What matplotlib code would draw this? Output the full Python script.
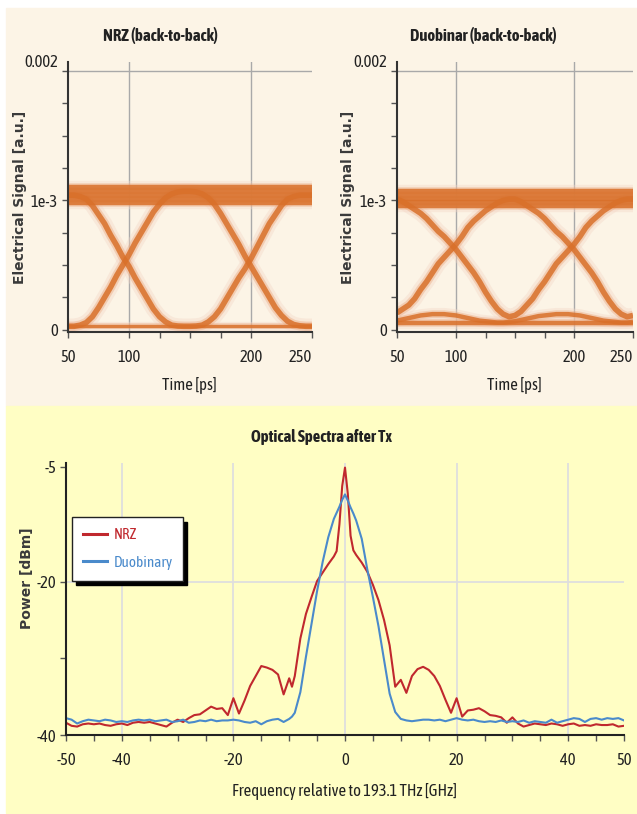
import matplotlib
matplotlib.use("Agg")
import matplotlib.pyplot as plt
import numpy as np
from matplotlib.patches import Rectangle

NARROW = ["Asap Condensed", "PT Sans Narrow", "DejaVu Sans"]
plt.rcParams["font.family"] = NARROW

# --- eye diagrams (signal in units of 1e-3 a.u.), sampled every 5 ps ---
T_EYE = np.arange(50, 251, 5)

NRZ_FALL_RISE = [1.04, 1.04, 1.03, 1.01, 0.96, 0.89, 0.82, 0.73, 0.65, 0.56,
                 0.49, 0.40, 0.32, 0.24, 0.16, 0.10, 0.06, 0.035, 0.028, 0.026,
                 0.026, 0.028, 0.035, 0.06, 0.10, 0.16, 0.24, 0.32, 0.40, 0.47,
                 0.55, 0.64, 0.73, 0.82, 0.89, 0.96, 1.01, 1.03, 1.04, 1.04,
                 1.04]
NRZ_RISE_FALL = [0.026, 0.026, 0.035, 0.055, 0.10, 0.17, 0.25, 0.33, 0.42, 0.50,
                 0.58, 0.67, 0.75, 0.83, 0.91, 0.97, 1.02, 1.05, 1.065, 1.07,
                 1.07, 1.065, 1.05, 1.02, 0.97, 0.90, 0.82, 0.74, 0.66, 0.57,
                 0.49, 0.41, 0.33, 0.25, 0.17, 0.11, 0.065, 0.04, 0.03, 0.026,
                 0.026]
NRZ_HIGH = [0.98, 1.01, 1.04, 1.07, 1.10]   # spread of the "1" rail
NRZ_LOW = 0.026

DB_FALL_RISE = [1.01, 0.99, 0.96, 0.93, 0.90, 0.86, 0.81, 0.76, 0.72, 0.67,
                0.62, 0.56, 0.50, 0.44, 0.37, 0.29, 0.22, 0.16, 0.12, 0.10,
                0.11, 0.14, 0.19, 0.24, 0.31, 0.37, 0.44, 0.51, 0.56, 0.61,
                0.66, 0.72, 0.79, 0.84, 0.88, 0.92, 0.95, 0.98, 1.00, 1.01,
                1.01]
DB_RISE_FALL = [0.13, 0.16, 0.19, 0.24, 0.31, 0.37, 0.44, 0.51, 0.56, 0.61,
                0.66, 0.72, 0.79, 0.84, 0.88, 0.92, 0.95, 0.98, 1.00, 1.01,
                1.01, 0.99, 0.96, 0.93, 0.90, 0.86, 0.81, 0.76, 0.72, 0.67,
                0.62, 0.56, 0.50, 0.44, 0.37, 0.29, 0.22, 0.16, 0.12, 0.10,
                0.11]
DB_LOW_WAVE = [0.07, 0.08, 0.09, 0.10, 0.11, 0.115, 0.12, 0.12, 0.12, 0.115,
               0.11, 0.10, 0.09, 0.08, 0.07, 0.065, 0.06, 0.055, 0.055, 0.06,
               0.065, 0.075, 0.085, 0.095, 0.105, 0.11, 0.115, 0.12, 0.12, 0.12,
               0.115, 0.11, 0.10, 0.09, 0.08, 0.07, 0.065, 0.06, 0.055, 0.055,
               0.06]
DB_HIGH = [0.96, 0.99, 1.01, 1.04, 1.07]
DB_LOW = 0.05

# --- optical spectra ---
FREQ = [-50, -49, -48, -47, -46, -45, -44, -43, -42, -41,
        -40, -39, -38, -37, -36, -35, -34, -33, -32, -31,
        -30, -29, -28, -27, -26, -25, -24, -23, -22, -21,
        -20, -19, -18, -17, -16, -15, -14, -13, -12, -11,
        -10, -9.5, -9, -8, -7, -6, -5, -4, -3, -2,
        -1.5, -1, -0.5, 0, 0.5, 1, 1.5, 2, 3, 4,
        5, 6, 7, 8, 9, 10, 11, 12, 13, 14,
        15, 16, 17, 18, 19, 20, 21, 22, 23, 24,
        25, 26, 27, 28, 29, 30, 31, 32, 33, 34,
        35, 36, 37, 38, 39, 40, 41, 42, 43, 44,
        45, 46, 47, 48, 49, 50]
P_NRZ = [-38.4, -38.8, -38.9, -38.6, -38.5, -38.6, -38.5, -38.7, -38.8, -38.6,
         -38.5, -38.7, -38.4, -38.3, -38.4, -38.3, -38.5, -38.7, -38.9, -38.4,
         -38.0, -38.3, -37.8, -37.4, -37.3, -36.8, -36.3, -36.6, -36.5, -37.4,
         -35.2, -37.2, -35.5, -33.6, -32.3, -31.0, -31.2, -31.5, -32.1, -34.7,
         -32.6, -33.7, -32.3, -27.4, -24.2, -22.0, -19.9, -18.8, -17.7, -16.7,
         -16.0, -12.5, -7.5, -5.1, -8.5, -14.0, -15.9, -16.5, -17.5, -18.7,
         -20.4, -22.4, -25.0, -28.3, -33.7, -32.8, -34.5, -32.3, -31.4, -31.1,
         -31.5, -32.3, -33.6, -35.4, -37.1, -35.2, -37.6, -36.8, -36.7, -36.5,
         -36.9, -37.4, -37.5, -37.7, -38.4, -37.7, -38.5, -38.9, -38.7, -38.5,
         -38.6, -38.7, -38.5, -38.6, -38.8, -38.6, -38.5, -38.8, -38.7, -38.8,
         -38.6, -38.7, -38.7, -38.6, -38.9, -38.8]
P_DUO = [-37.8, -38.0, -38.5, -38.2, -38.0, -38.1, -38.2, -38.0, -38.1, -38.3,
         -38.2, -38.3, -38.1, -38.0, -38.1, -38.0, -38.2, -38.1, -38.0, -38.3,
         -38.2, -38.0, -38.4, -38.3, -38.1, -38.2, -38.0, -38.2, -38.1, -38.1,
         -38.0, -38.1, -38.3, -38.4, -38.2, -38.6, -38.2, -38.0, -37.9, -38.3,
         -37.9, -37.6, -37.1, -34.4, -29.8, -25.5, -21.2, -17.4, -14.2, -11.8,
         -11.0, -10.2, -9.3, -8.6, -9.4, -10.3, -11.1, -12.0, -14.4, -18.4,
         -22.0, -25.8, -30.2, -34.6, -37.0, -37.9, -38.1, -38.2, -38.1, -38.0,
         -38.0, -38.1, -38.0, -38.2, -38.0, -37.8, -38.0, -38.1, -38.0, -38.2,
         -38.3, -38.2, -38.3, -38.1, -38.3, -38.2, -38.3, -38.1, -38.4, -38.2,
         -38.3, -38.4, -38.0, -38.4, -38.2, -38.0, -37.8, -37.9, -38.3, -37.9,
         -37.8, -38.0, -37.8, -37.9, -37.8, -38.1]

CREAM = "#FCF4E6"
YELLOW = "#FFFEC4"
ORANGE = "#D9702A"
ORANGE_MID = "#EBA57A"
ORANGE_HALO = "#F3D6C6"
RED = "#C0282E"
BLUE = "#4A8ACB"
GRID_TOP = "#A9A9A9"
GRID_BOT = "#DEDEDE"
AXIS = "#333333"


def eye_layer(ax, traces, widths, color, alpha):
    for (t, v), w in zip(traces, widths):
        ax.plot(t, np.asarray(v) * 1e-3, color=color, lw=w, alpha=alpha,
                solid_capstyle="butt", solid_joinstyle="round")


def draw_eye(ax, traces, core_w):
    # halo, mid and core passes give the blurred persistence look
    eye_layer(ax, traces, [w * 2.8 for w in core_w], ORANGE_HALO, 0.40)
    eye_layer(ax, traces, [w * 1.7 for w in core_w], ORANGE_MID, 0.40)
    eye_layer(ax, traces, core_w, ORANGE, 0.85)


def style_eye_axes(ax):
    ax.set_facecolor("none")
    ax.set_xlim(50, 250)
    ax.set_ylim(-0.000018, 0.00207)
    for s in ("top", "right"):
        ax.spines[s].set_visible(False)
    for s in ("left", "bottom"):
        ax.spines[s].set_color(AXIS)
        ax.spines[s].set_linewidth(1.5)
    for x in (100, 200):
        ax.axvline(x, color=GRID_TOP, lw=1.0, zorder=0)
    ax.axhline(0.002, color=GRID_TOP, lw=1.0, zorder=0)
    ax.set_xticks([50, 100, 200, 250])
    ax.set_xticks([125, 150, 175], minor=True)
    ax.set_yticks([0, 0.001, 0.002])
    ax.set_yticklabels(["0", "1e-3", "0.002"])
    ax.set_yticks([0.00025, 0.0005, 0.00075, 0.00125, 0.0015, 0.00175], minor=True)
    ax.tick_params(axis="both", which="both", direction="out", length=4,
                   width=1, color="#555555", labelsize=12, labelcolor="#222222")
    ax.tick_params(axis="x", which="both", pad=8)
    ax.tick_params(axis="y", which="both", pad=3)
    ax.get_yticklabels()[-1].set_va("bottom")
    ax.get_xticklabels()[-1].set_ha("right")


fig = plt.figure(figsize=(6.37, 8.14), dpi=100)
fig.patch.set_facecolor("white")
fig.add_artist(Rectangle((6 / 637, 408 / 814), 631 / 637, 398 / 814,
                         transform=fig.transFigure, color=CREAM, zorder=0))
fig.add_artist(Rectangle((6 / 637, 1 / 814), 631 / 637, 407 / 814,
                         transform=fig.transFigure, color=YELLOW, zorder=0))

# NRZ eye
ax1 = fig.add_axes([68 / 637, 482 / 814, 244 / 637, 270 / 814])
style_eye_axes(ax1)
nrz_traces = [([50, 250], [h, h]) for h in NRZ_HIGH] + [
    ([50, 250], [NRZ_LOW, NRZ_LOW]),
    (T_EYE, NRZ_FALL_RISE),
    (T_EYE, NRZ_RISE_FALL),
]
draw_eye(ax1, nrz_traces, [3.2] * len(NRZ_HIGH) + [2.4, 4.0, 4.0])

# Duobinary eye
ax2 = fig.add_axes([397 / 637, 482 / 814, 236 / 637, 270 / 814])
style_eye_axes(ax2)
db_traces = [([50, 250], [h, h]) for h in DB_HIGH] + [
    ([50, 250], [DB_LOW, DB_LOW]),
    (T_EYE, DB_LOW_WAVE),
    (T_EYE, DB_FALL_RISE),
    (T_EYE, DB_RISE_FALL),
]
draw_eye(ax2, db_traces, [3.2] * len(DB_HIGH) + [3.2, 3.2, 4.0, 4.0])

for x, title in ((160, "NRZ (back-to-back)"), (483, "Duobinar (back-to-back)")):
    fig.text(x / 637, 1 - 35 / 814, title, ha="center", va="center",
             fontsize=12, fontweight="bold", color="#222222")
for x, xl in ((20, 189), (348, 514)):
    fig.text(x / 637, 1 - 197 / 814, "Electrical Signal [a.u.]", rotation=90,
             ha="center", va="center", fontsize=10, fontweight="bold",
             family="DejaVu Sans", color="#3a3a3a")
    fig.text(xl / 637, 1 - 386 / 814, "Time [ps]", ha="center", va="center",
             fontsize=12, color="#222222")

# spectra
ax3 = fig.add_axes([66 / 637, 79 / 814, 558 / 637, 272 / 814])
ax3.set_facecolor("none")
ax3.set_xlim(-50, 50)
ax3.set_ylim(-40, -4.5)
for s in ("top", "right"):
    ax3.spines[s].set_visible(False)
for s in ("left", "bottom"):
    ax3.spines[s].set_color("#222222")
    ax3.spines[s].set_linewidth(1.5)
for x in (-40, -20, 0, 20, 40):
    ax3.axvline(x, color=GRID_BOT, lw=1.3, zorder=0)
ax3.axhline(-20, color=GRID_BOT, lw=1.3, zorder=0)

ax3.plot(FREQ, P_NRZ, color=RED, lw=1.5, label="NRZ")
ax3.plot(FREQ, P_DUO, color=BLUE, lw=1.5, label="Duobinary")

ax3.set_xticks(np.arange(-50, 51, 5))
ax3.set_xticklabels(["-50", "", "-40", "", "", "", "-20", "", "", "", "0",
                     "", "", "", "20", "", "", "", "40", "", "50"])
ax3.set_yticks([-40, -30, -20, -5])
ax3.set_yticklabels(["-40", "", "-20", "-5"])
ax3.tick_params(axis="both", direction="out", length=4, width=1, color="#555555",
                labelsize=12, labelcolor="#222222")
ax3.tick_params(axis="x", pad=8)
ax3.tick_params(axis="y", pad=3)

leg = ax3.legend(loc="upper left", bbox_to_anchor=(0.011, 0.80), borderaxespad=0,
                 fontsize=11, frameon=True, fancybox=False, handlelength=1.6,
                 handletextpad=0.4, labelspacing=0.9, borderpad=0.7,
                 shadow={"ox": 3, "oy": -3, "facecolor": "black",
                         "edgecolor": "black", "alpha": 1.0})
leg.get_frame().set_edgecolor("#222222")
leg.get_frame().set_linewidth(1.0)
leg.get_frame().set_facecolor("white")
for txt, c in zip(leg.get_texts(), (RED, BLUE)):
    txt.set_color(c)
for ln in leg.get_lines():
    ln.set_linewidth(2.2)

fig.text(322 / 637, 1 - 437 / 814, "Optical Spectra after Tx", ha="center",
         va="center", fontsize=12, fontweight="bold", color="#222222")
fig.text(27 / 637, 1 - 578 / 814, "Power [dBm]", rotation=90, ha="center",
         va="center", fontsize=10, fontweight="bold", family="DejaVu Sans",
         color="#3a3a3a")
fig.text(345 / 637, 1 - 792 / 814, "Frequency relative to 193.1 THz [GHz]",
         ha="center", va="center", fontsize=12, color="#222222")

fig.savefig("out.png", dpi=100)
